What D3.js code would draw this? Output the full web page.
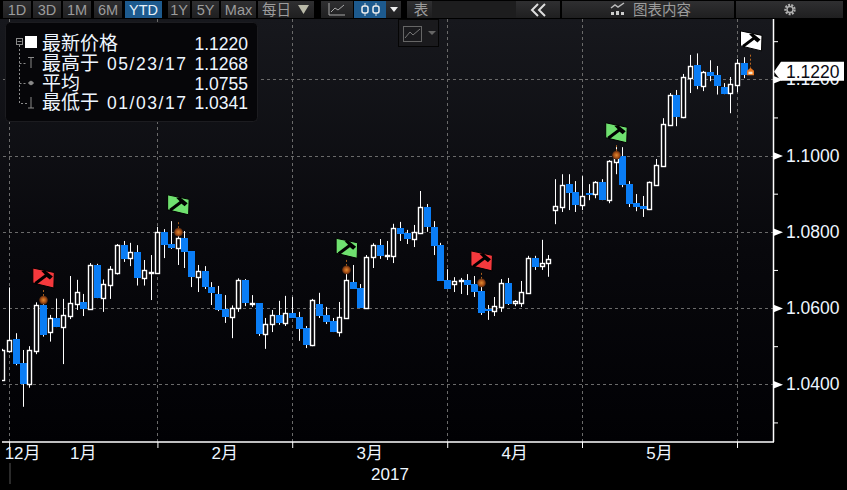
<!DOCTYPE html>
<html lang="zh">
<head>
  <meta charset="UTF-8">
  <title>EURUSD YTD</title>
  <script src="https://d3js.org/d3.v7.min.js"></script>
  <style>
    html, body { margin: 0; padding: 0; background: #000; overflow: hidden; }
    svg { display: block; }
    text { font-family: "Liberation Sans", "Noto Sans CJK SC", sans-serif; }
  </style>
</head>
<body>
<svg></svg>
<script>
  // candles (index = trading day)
  const opens = [1.0410,1.0488,1.0519,1.0455,1.0402,1.0488,1.0608,1.0538,1.0574,1.0551,
    1.0580,1.0611,1.0616,1.0598,1.0712,1.0627,1.0661,1.0693,1.0765,1.0730,
    1.0746,1.0680,1.0691,1.0693,1.0800,1.0768,1.0758,1.0784,1.0749,1.0682,
    1.0697,1.0655,1.0637,1.0597,1.0577,1.0599,1.0674,1.0611,1.0613,1.0533,
    1.0557,1.0582,1.0562,1.0586,1.0577,1.0548,1.0504,1.0611,1.0582,1.0566,
    1.0538,1.0574,1.0668,1.0653,1.0600,1.0733,1.0765,1.0737,1.0737,1.0810,
    1.0797,1.0782,1.0798,1.0865,1.0813,1.0765,1.0674,1.0664,1.0670,1.0674,
    1.0663,1.0645,1.0598,1.0593,1.0604,1.0666,1.0612,1.0614,1.0640,1.0731,
    1.0709,1.0717,1.0858,1.0866,1.0925,1.0904,1.0871,1.0902,1.0898,1.0930,
    1.0884,1.0984,1.0999,1.0925,1.0875,1.0868,1.0860,1.0923,1.0973,1.1081,
    1.1158,1.1101,1.1204,1.1237,1.1183,1.1219,1.1211,1.1180,1.1165,1.1186,1.1244]
  const highs = [1.0493,1.0654,1.0534,1.0490,1.0500,1.0615,1.0621,1.0582,1.0625,1.0624,
    1.0684,1.0674,1.0637,1.0718,1.0716,1.0675,1.0710,1.0768,1.0776,1.0771,
    1.0765,1.0726,1.0739,1.0813,1.0807,1.0828,1.0805,1.0802,1.0749,1.0713,
    1.0710,1.0668,1.0658,1.0634,1.0607,1.0678,1.0676,1.0634,1.0613,1.0574,
    1.0595,1.0619,1.0632,1.0629,1.0590,1.0553,1.0624,1.0640,1.0603,1.0574,
    1.0616,1.0700,1.0713,1.0663,1.0739,1.0770,1.0781,1.0776,1.0821,1.0826,
    1.0805,1.0818,1.0907,1.0873,1.0828,1.0771,1.0702,1.0681,1.0679,1.0689,
    1.0684,1.0665,1.0608,1.0629,1.0676,1.0679,1.0621,1.0671,1.0737,1.0737,
    1.0779,1.0739,1.0938,1.0951,1.0951,1.0933,1.0946,1.0925,1.0933,1.0938,
    1.0988,1.1023,1.1022,1.0933,1.0899,1.0894,1.0932,1.0991,1.1098,1.1164,
    1.1172,1.1214,1.1264,1.1268,1.1222,1.1250,1.1235,1.1190,1.1206,1.1253,1.1258]
  const lows = [1.0410,1.0483,1.0450,1.0341,1.0391,1.0479,1.0525,1.0512,1.0550,1.0453,
    1.0571,1.0595,1.0579,1.0597,1.0626,1.0590,1.0624,1.0688,1.0721,1.0710,
    1.0659,1.0659,1.0621,1.0691,1.0731,1.0755,1.0713,1.0705,1.0655,1.0642,
    1.0650,1.0608,1.0592,1.0561,1.0521,1.0590,1.0605,1.0603,1.0527,1.0493,
    1.0537,1.0556,1.0553,1.0574,1.0514,1.0495,1.0500,1.0574,1.0558,1.0537,
    1.0525,1.0572,1.0650,1.0600,1.0600,1.0705,1.0729,1.0726,1.0718,1.0776,
    1.0768,1.0760,1.0794,1.0800,1.0739,1.0671,1.0650,1.0642,1.0637,1.0634,
    1.0629,1.0582,1.0569,1.0579,1.0590,1.0608,1.0605,1.0603,1.0637,1.0700,
    1.0700,1.0682,1.0820,1.0852,1.0857,1.0852,1.0857,1.0883,1.0888,1.0883,
    1.0875,1.0951,1.0917,1.0865,1.0854,1.0839,1.0857,1.0922,1.0972,1.1080,
    1.1077,1.1098,1.1164,1.1174,1.1169,1.1195,1.1160,1.1161,1.1111,1.1166,1.1203]
  const closes = [1.0490,1.0516,1.0453,1.0401,1.0489,1.0607,1.0529,1.0573,1.0550,1.0581,
    1.0612,1.0641,1.0597,1.0712,1.0626,1.0662,1.0702,1.0765,1.0729,1.0746,
    1.0680,1.0699,1.0694,1.0799,1.0765,1.0758,1.0783,1.0748,1.0681,1.0696,
    1.0654,1.0640,1.0595,1.0577,1.0599,1.0673,1.0613,1.0613,1.0532,1.0557,
    1.0581,1.0561,1.0586,1.0574,1.0545,1.0503,1.0620,1.0579,1.0563,1.0537,
    1.0577,1.0674,1.0650,1.0600,1.0733,1.0765,1.0737,1.0739,1.0809,1.0794,
    1.0781,1.0799,1.0864,1.0813,1.0763,1.0671,1.0650,1.0670,1.0673,1.0661,
    1.0642,1.0587,1.0592,1.0605,1.0666,1.0611,1.0619,1.0641,1.0730,1.0708,
    1.0717,1.0728,1.0867,1.0924,1.0902,1.0870,1.0895,1.0896,1.0930,1.0883,
    1.0985,1.0997,1.0923,1.0873,1.0865,1.0860,1.0930,1.0974,1.1082,1.1158,
    1.1101,1.1205,1.1236,1.1182,1.1218,1.1209,1.1182,1.1161,1.1187,1.1244,1.1211]

  // orange signal points and the flags above them
  const signalDays = [6, 26, 51, 71, 91]
  const signalPrices = [1.0621, 1.0799, 1.0700, 1.0666, 1.1001]
  const flagDays = [6, 26, 51, 71, 91, 111]
  const flagPrices = [1.0705, 1.0897, 1.0783, 1.0750, 1.1086, 1.1327]
  const flagColors = ['#f5393d', '#6fe06f', '#6fe06f', '#f5393d', '#6fe06f', '#ffffff']
  const lastDay = 111, lastPrice = 1.1220

  const priceTicks = [1.04, 1.06, 1.08, 1.10, 1.12]
  const minorTicks = [1.03, 1.05, 1.07, 1.09, 1.11, 1.13]
  const monthDays = [1, 23, 43, 66, 86, 109]
  const monthLabels = ['12月', '1月', '2月', '3月', '4月', '5月']
  const monthLabelDays = [3, 12, 33, 54.5, 76, 97.5]

  const legendNames = ['最新价格', '最高于', '平均', '最低于']
  const legendDates = ['', '05/23/17', '', '01/03/17']
  const legendValues = ['1.1220', '1.1268', '1.0755', '1.0341']

  const rangeButtons = ['1D', '3D', '1M', '6M', 'YTD', '1Y', '5Y', 'Max']

  const width = 847, height = 490
  const plot = {left: 2, right: 773, top: 19, bottom: 442}

  const x = d3.scaleLinear().domain([0, 111]).range([2.4, 750.5])
  const y = d3.scaleLinear().domain([1.04, 1.12]).range([384.3, 79.3])

  const svg = d3.select('svg').attr('width', width).attr('height', height)
      .attr('viewBox', [0, 0, width, height])

  const defs = svg.append('defs')
  const bg = defs.append('linearGradient').attr('id', 'bg')
      .attr('x1', 0).attr('x2', 0).attr('y1', 0).attr('y2', 1)
  bg.append('stop').attr('offset', 0).attr('stop-color', '#17181d')
  bg.append('stop').attr('offset', 0.55).attr('stop-color', '#08080c')
  bg.append('stop').attr('offset', 1).attr('stop-color', '#010104')
  const btn = defs.append('linearGradient').attr('id', 'btn')
      .attr('x1', 0).attr('x2', 0).attr('y1', 0).attr('y2', 1)
  btn.append('stop').attr('offset', 0).attr('stop-color', '#2f2f31')
  btn.append('stop').attr('offset', 1).attr('stop-color', '#1f1f20')
  const glow = defs.append('radialGradient').attr('id', 'glow')
  glow.append('stop').attr('offset', 0).attr('stop-color', '#e08a30')
  glow.append('stop').attr('offset', 0.6).attr('stop-color', '#a84f17')
  glow.append('stop').attr('offset', 1).attr('stop-color', '#4e2610')
  defs.append('clipPath').attr('id', 'plotClip').append('rect')
      .attr('x', plot.left).attr('y', plot.top)
      .attr('width', plot.right - plot.left).attr('height', plot.bottom - plot.top)

  svg.append('rect').attr('width', width).attr('height', height).attr('fill', '#000')
  svg.append('rect').attr('x', 0).attr('y', plot.top)
      .attr('width', plot.right).attr('height', plot.bottom - plot.top)
      .attr('fill', 'url(#bg)')

  // faint watermark tiles
  const marks = svg.append('g').attr('fill', '#fff').attr('fill-opacity', 0.018)
      .attr('font-size', 21).attr('font-weight', 'bold')
  for (let i = 0; i < 5; i++) {
    for (let j = 0; j < 3; j++) {
      marks.append('text')
          .attr('transform', `translate(${60 + i * 148},${150 + j * 118}) rotate(-45)`)
          .text('© FX678 汇通网')
    }
  }

  // grid
  const grid = svg.append('g').attr('stroke', '#6a6a6a').attr('stroke-dasharray', '3,3')
  grid.selectAll('.h').data(priceTicks).join('line').attr('class', 'h')
      .attr('x1', 3).attr('x2', plot.right)
      .attr('y1', d => Math.round(y(d)) + 0.5).attr('y2', d => Math.round(y(d)) + 0.5)
  grid.selectAll('.v').data(monthDays).join('line').attr('class', 'v')
      .attr('y1', plot.top).attr('y2', plot.bottom)
      .attr('x1', d => Math.round(x(d)) + 0.5).attr('x2', d => Math.round(x(d)) + 0.5)

  // candles
  const candles = svg.append('g').attr('clip-path', 'url(#plotClip)')
      .selectAll('g').data(d3.range(opens.length)).join('g')
  const px = i => Math.round(x(i))

  candles.append('line').attr('stroke', '#fff')
      .attr('x1', i => px(i) + 0.5).attr('x2', i => px(i) + 0.5)
      .attr('y1', i => y(highs[i])).attr('y2', i => y(lows[i]))

  const down = candles.filter(i => closes[i] < opens[i])
  down.append('rect').attr('fill', '#0a7df5')
      .attr('x', i => px(i) - 3).attr('width', 7)
      .attr('y', i => Math.round(y(opens[i])))
      .attr('height', i => Math.max(Math.round(y(closes[i])) - Math.round(y(opens[i])), 2))

  const up = candles.filter(i => closes[i] >= opens[i])
  up.append('rect').attr('fill', '#050508').attr('stroke', '#fff').attr('stroke-width', 1.4)
      .attr('x', i => px(i) - 1.5).attr('width', 4)
      .attr('y', i => Math.round(y(closes[i])) + 0.5)
      .attr('height', i => Math.max(Math.round(y(opens[i])) - Math.round(y(closes[i])), 1))

  // signal points
  const signals = svg.append('g')
  signals.selectAll('line').data(signalDays).join('line')
      .attr('stroke', '#a8601f').attr('stroke-dasharray', '2,2')
      .attr('x1', d => px(d) + 0.5).attr('x2', d => px(d) + 0.5)
      .attr('y1', (d, i) => y(signalPrices[i]) - 10).attr('y2', (d, i) => y(signalPrices[i]) - 3)
  signals.selectAll('circle').data(signalDays).join('circle')
      .attr('fill', 'url(#glow)').attr('r', 4.4)
      .attr('cx', d => px(d) + 0.5).attr('cy', (d, i) => y(signalPrices[i]))

  // last point, small house shape
  const lx = x(lastDay), ly = y(lastPrice)
  svg.append('line').attr('stroke', '#b8651f').attr('stroke-dasharray', '2,2')
      .attr('x1', lx).attr('x2', lx).attr('y1', ly - 17).attr('y2', ly - 4)
  svg.append('path').attr('fill', '#e8761f')
      .attr('d', `M${lx - 3.5},${ly + 3.5}V${ly - 1}L${lx},${ly - 4}L${lx + 3.5},${ly - 1}V${ly + 3.5}Z`)
  svg.append('rect').attr('fill', '#f6e3c8')
      .attr('x', lx - 2).attr('y', ly).attr('width', 4).attr('height', 2.5)

  // flags with a hammer
  const flags = svg.append('g').selectAll('g').data(flagDays).join('g')
      .attr('transform', (d, i) => `translate(${x(d) - 10},${y(flagPrices[i])})`)
  flags.append('path').attr('d', 'M0,0L21.5,4.5L21,20L0,15Z')
      .attr('fill', (d, i) => flagColors[i])
      .attr('stroke', '#000').attr('stroke-width', 1)
  flags.append('path').attr('d', 'M2.5,15.5L14.5,6.5').attr('stroke', '#000').attr('stroke-width', 3)
  flags.append('path').attr('d', 'M8.5,3L12.5,2.5L20,8.5L17,11.5L14.5,9.5L11.5,6Z').attr('fill', '#000')

  // axes
  const rightMinor = d3.axisRight(y).tickValues(minorTicks).tickFormat('').tickSize(5)
  const rightMajor = d3.axisRight(y).tickValues(priceTicks).tickFormat(d3.format('.4f')).tickSize(0).tickPadding(13)

  const gMinor = svg.append('g').attr('transform', `translate(${plot.right},0)`).call(rightMinor)
  gMinor.select('.domain').remove()
  gMinor.selectAll('line').attr('stroke', '#fff').attr('stroke-width', 1)

  const gMajor = svg.append('g').attr('transform', `translate(${plot.right},0)`).call(rightMajor)
  gMajor.select('.domain').remove()
  gMajor.selectAll('.tick text').attr('fill', '#eef6ff').attr('font-size', 17.5)
      .style('font-family', '"Liberation Sans", sans-serif')
  gMajor.selectAll('.tick').append('path').attr('d', 'M0,-4L10,0L0,4Z').attr('fill', '#fff')

  const gBottom = svg.append('g').attr('transform', `translate(0,${plot.bottom})`)
      .call(d3.axisBottom(x).tickValues(monthDays).tickFormat('').tickSize(6))
  gBottom.select('.domain').remove()
  gBottom.selectAll('line').attr('stroke', '#fff')

  svg.append('line').attr('x1', 2).attr('x2', plot.right + 1).attr('y1', plot.bottom).attr('y2', plot.bottom)
      .attr('stroke', '#fff').attr('stroke-width', 1.5)
  svg.append('line').attr('x1', plot.right + 0.5).attr('x2', plot.right + 0.5).attr('y1', plot.top).attr('y2', plot.bottom)
      .attr('stroke', '#fff').attr('stroke-width', 1.5)

  svg.append('g').selectAll('text').data(monthLabels).join('text')
      .attr('x', (d, i) => x(monthLabelDays[i])).attr('y', 459)
      .attr('text-anchor', 'middle').attr('fill', '#eef6ff').attr('font-size', 17)
      .text(d => d)
  svg.append('text').attr('x', 390).attr('y', 480).attr('text-anchor', 'middle')
      .attr('fill', '#eef6ff').attr('font-size', 17).text('2017')
  svg.append('line').attr('x1', 10).attr('x2', 10).attr('y1', 463).attr('y2', 484).attr('stroke', '#555')

  // last price tag
  const tagY = y(lastPrice)
  svg.append('path').attr('fill', '#fff')
      .attr('d', `M${plot.right + 1},${tagY}L${plot.right + 8},${tagY - 10}H844V${tagY + 9}H${plot.right + 8}Z`)
  svg.append('text').attr('x', 786).attr('y', tagY + 6.5).attr('fill', '#0b0b14').attr('font-size', 17.5)
      .text(d3.format('.4f')(lastPrice))

  // legend box
  svg.append('rect').attr('x', 5.5).attr('y', 22.5).attr('width', 252).attr('height', 99).attr('rx', 4)
      .attr('fill', '#060609').attr('stroke', '#1c1c20')
  const rowY = [43, 63, 83, 102]
  const rows = svg.append('g').selectAll('g').data(legendNames).join('g')
      .attr('transform', (d, i) => `translate(0,${rowY[i]})`)
  rows.append('text').attr('x', 42).attr('y', 6.5).attr('fill', '#eef6ff').attr('font-size', 19)
      .style('font-family', '"Noto Sans CJK SC", sans-serif').text(d => d)
  rows.append('text').attr('x', 248).attr('y', 6.5).attr('text-anchor', 'end')
      .attr('fill', '#eef6ff').attr('font-size', 17.5).text((d, i) => legendValues[i])
  rows.filter((d, i) => legendDates[i]).append('text').attr('x', 107).attr('y', 6.5)
      .attr('fill', '#eef6ff').attr('font-size', 17.5)
      .attr('textLength', 79).attr('lengthAdjust', 'spacing')
      .text(d => legendDates[legendNames.indexOf(d)])

  const tree = svg.append('g').attr('stroke', '#8a8a8a').attr('fill', 'none')
  tree.append('rect').attr('x', 16.5).attr('y', 38.5).attr('width', 6).attr('height', 6)
  tree.append('path').attr('d', 'M17.5,41.5H21.5')
  tree.append('path').attr('stroke-dasharray', '2,2').attr('d', 'M19.5,45V103.5H27M19.5,63.5H27M19.5,83.5H27')
  tree.append('path').attr('d', 'M28,57.5H34M31,57.5V68M28,83H34M28,108H34M31,108V97')
  tree.append('circle').attr('cx', 31).attr('cy', 83).attr('r', 1.8).attr('fill', '#8a8a8a')
  svg.append('rect').attr('x', 25).attr('y', 36).attr('width', 12).attr('height', 12).attr('fill', '#fff')

  // toolbar
  const bar = svg.append('g')
  const btnX = [3, 33, 63, 94, 125, 168, 192, 221]
  const btnW = [28, 28, 28, 28, 37, 22, 27, 35]
  rangeButtons.forEach((d, i) => {
    bar.append('rect').attr('x', btnX[i]).attr('y', 1).attr('width', btnW[i]).attr('height', 17)
        .attr('fill', d === 'YTD' ? '#1d5a8e' : 'url(#btn)')
    bar.append('text').attr('x', btnX[i] + btnW[i] / 2).attr('y', 15).attr('text-anchor', 'middle')
        .attr('fill', d === 'YTD' ? '#e8f2fa' : '#9c9c9c').attr('font-size', 14.5).text(d)
  })
  const box = (l, w, fill) => bar.append('rect').attr('x', l).attr('y', 1).attr('width', w).attr('height', 17)
      .attr('fill', fill || 'url(#btn)')
  box(258, 56); box(321, 32); box(354, 32, '#1d5a8e'); box(386, 15); box(407, 25)
  box(432, 84, '#1d1d1e'); box(516, 44); box(562, 172); box(736, 107)

  bar.append('text').attr('x', 262).attr('y', 14.5).attr('fill', '#9c9c9c').attr('font-size', 14.5).text('每日')
  bar.append('path').attr('d', 'M298,5H309L303.5,14Z').attr('fill', '#b9b9a8')
  bar.append('path').attr('d', 'M329,3V15H345M331,12L335,8L338,10L344,5').attr('fill', 'none').attr('stroke', '#a8a8a8')
  bar.append('path').attr('d', 'M365,3V16M376,3V16').attr('stroke', '#ddd')
  bar.append('rect').attr('x', 362).attr('y', 6).attr('width', 6).attr('height', 7).attr('rx', 2).attr('fill', '#1d5a8e').attr('stroke', '#eee').attr('stroke-width', 1.5)
  bar.append('rect').attr('x', 373).attr('y', 6).attr('width', 6).attr('height', 7).attr('rx', 2).attr('fill', '#1d5a8e').attr('stroke', '#eee').attr('stroke-width', 1.5)
  bar.append('path').attr('d', 'M390,7H398L394,12Z').attr('fill', '#eee')
  bar.append('text').attr('x', 421).attr('y', 14.5).attr('text-anchor', 'middle').attr('fill', '#9c9c9c').attr('font-size', 14.5).text('表')
  bar.append('path').attr('d', 'M538,4L532,10L538,16M545,4L539,10L545,16').attr('fill', 'none').attr('stroke', '#ddd').attr('stroke-width', 2)
  bar.append('path').attr('d', 'M611,8L615,5L618,7L624,3').attr('fill', 'none').attr('stroke', '#bbb').attr('stroke-width', 1.5)
  bar.append('path').attr('d', 'M611,12h3v3h-3zM616,11h3v4h-3zM621,12h3v3h-3z').attr('fill', '#ccc')
  bar.append('text').attr('x', 633).attr('y', 14.5).attr('fill', '#9c9c9c').attr('font-size', 14.5).text('图表内容')
  bar.append('circle').attr('cx', 790).attr('cy', 9.5).attr('r', 4.6).attr('fill', 'none').attr('stroke', '#b0b0b0').attr('stroke-width', 2.2).attr('stroke-dasharray', '2,1.2')
  bar.append('circle').attr('cx', 790).attr('cy', 9.5).attr('r', 3).attr('fill', 'none').attr('stroke', '#b0b0b0').attr('stroke-width', 1.4)

  // small chart type picker
  svg.append('rect').attr('x', 398.5).attr('y', 19.5).attr('width', 40).attr('height', 27).attr('fill', '#1a1a1d').attr('stroke', '#050505')
  svg.append('rect').attr('x', 403.5).attr('y', 26.5).attr('width', 18).attr('height', 15).attr('fill', 'none').attr('stroke', '#666')
  svg.append('path').attr('d', 'M405,38L410,32L413,35L420,29').attr('fill', 'none').attr('stroke', '#777')
  svg.append('path').attr('d', 'M428,31H436L432,35Z').attr('fill', '#666')
</script>
</body>
</html>
